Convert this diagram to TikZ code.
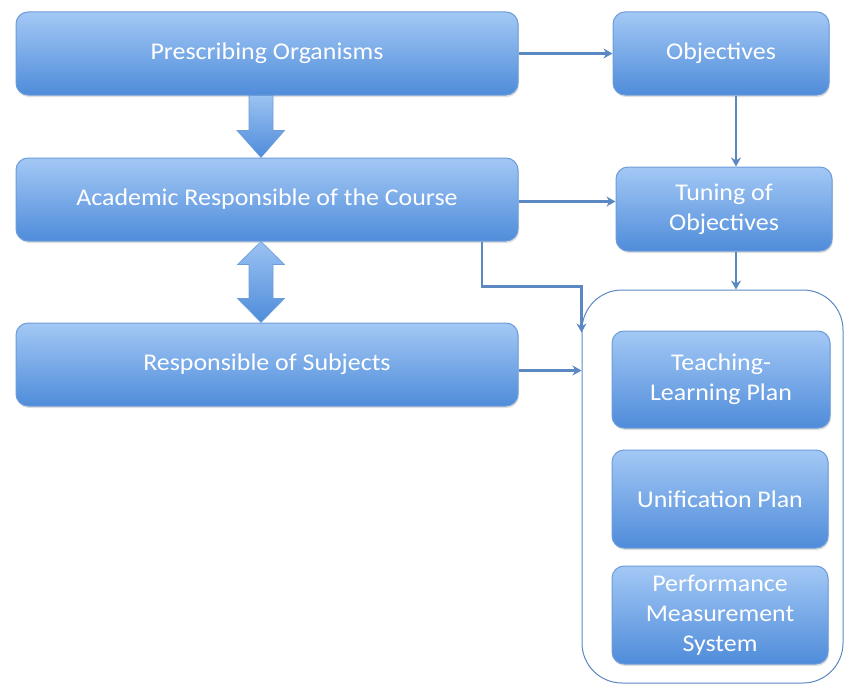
\documentclass[tikz,border=0pt]{standalone}
\usepackage{fontspec}
\setmainfont{Carlito}[FakeStretch=1.08]
\usetikzlibrary{positioning,calc,arrows.meta,shadows}

\definecolor{boxtop}{HTML}{A3C8F5}
\definecolor{boxbot}{HTML}{4F8CDA}
\definecolor{boxline}{HTML}{6D9DD8}
\definecolor{linkblue}{HTML}{5B87C3}

\begin{document}
\begin{tikzpicture}[x=1pt, y=-1pt,
  box/.style = {draw=boxline, line width=1pt, rounded corners=12pt,
    top color=boxtop, bottom color=boxbot, text=white, align=center,
    font=\fontsize{24}{30}\selectfont, inner sep=0pt,
    drop shadow={opacity=0.25, shadow xshift=1pt, shadow yshift=-2pt}},
  blockarr/.style = {draw=boxline, line width=0.6pt, line join=miter,
    top color=boxtop!90!boxbot, bottom color=boxbot},
  arr/.style = {draw=linkblue, line width=2.4pt,
    -{Stealth[length=9pt, width=10pt]}}
  ]
  \useasboundingbox (0,0) rectangle (845,685);

  % left column
  \node[box, minimum width=502pt, minimum height=83pt] (presc) at (267,53.5)
    {Prescribing Organisms};
  \node[box, minimum width=502pt, minimum height=83pt] (acad) [below=62pt of presc]
    {Academic Responsible of the Course};
  \node[box, minimum width=502pt, minimum height=83pt] (subj) [below=81pt of acad]
    {Responsible of Subjects};

  % right column
  \node[box, minimum width=216pt, minimum height=83pt] (obj) [right=94pt of presc]
    {Objectives};
  \node[box, minimum width=216pt, minimum height=84pt] (tune)
    [below=71pt of obj, xshift=3pt] {Tuning of\\Objectives};
  \node[draw=linkblue, line width=1pt, rounded corners=40pt,
    minimum width=261pt, minimum height=393pt] (plan) at (712.5,486.5) {};
  \node[box, minimum width=218pt, minimum height=97pt] (teach) at (721,379.5)
    {Teaching-\\Learning Plan};
  \node[box, minimum width=216pt, minimum height=98pt] (unif) at (720,499)
    {Unification Plan};
  \node[box, minimum width=216pt, minimum height=98pt] (perf) at (720,615)
    {Performance\\Measurement\\System};

  % block arrows
  \draw[blockarr] ([xshift=-18pt]presc.south) -- ++(0,35) -- ++(-12,0)
    -- ([xshift=-6pt]acad.north) -- ++(23.5,-27) -- ++(-11.5,0)
    -- ([xshift=6pt]presc.south) -- cycle;
  \draw[blockarr] ([xshift=-6pt]acad.south) -- ++(23.5,23) -- ++(-11.5,0)
    -- ++(0,34) -- ++(11.5,0) -- ([xshift=-6pt]subj.north)
    -- ++(-23.5,-24) -- ++(11.5,0) -- ++(0,-34) -- ++(-11.5,0) -- cycle;

  % links
  \draw[arr] (presc.east) -- (obj.west);
  \draw[arr] ([xshift=15pt]obj.south) -- ([xshift=15pt]obj.south |- tune.north);
  \draw[arr] ([yshift=-2pt]acad.east) -- ([yshift=-2pt]acad.east -| tune.west);
  \draw[arr] ([xshift=12pt]tune.south) -- ([xshift=12pt]tune.south |- plan.north);
  \draw[arr] ([xshift=215pt]acad.south) -- ++(0,45)
    -| ([yshift=-43pt]plan.north west);
  \draw[arr] ([yshift=-6pt]subj.east) -- ([yshift=-6pt]subj.east -| plan.west);
\end{tikzpicture}
\end{document}
